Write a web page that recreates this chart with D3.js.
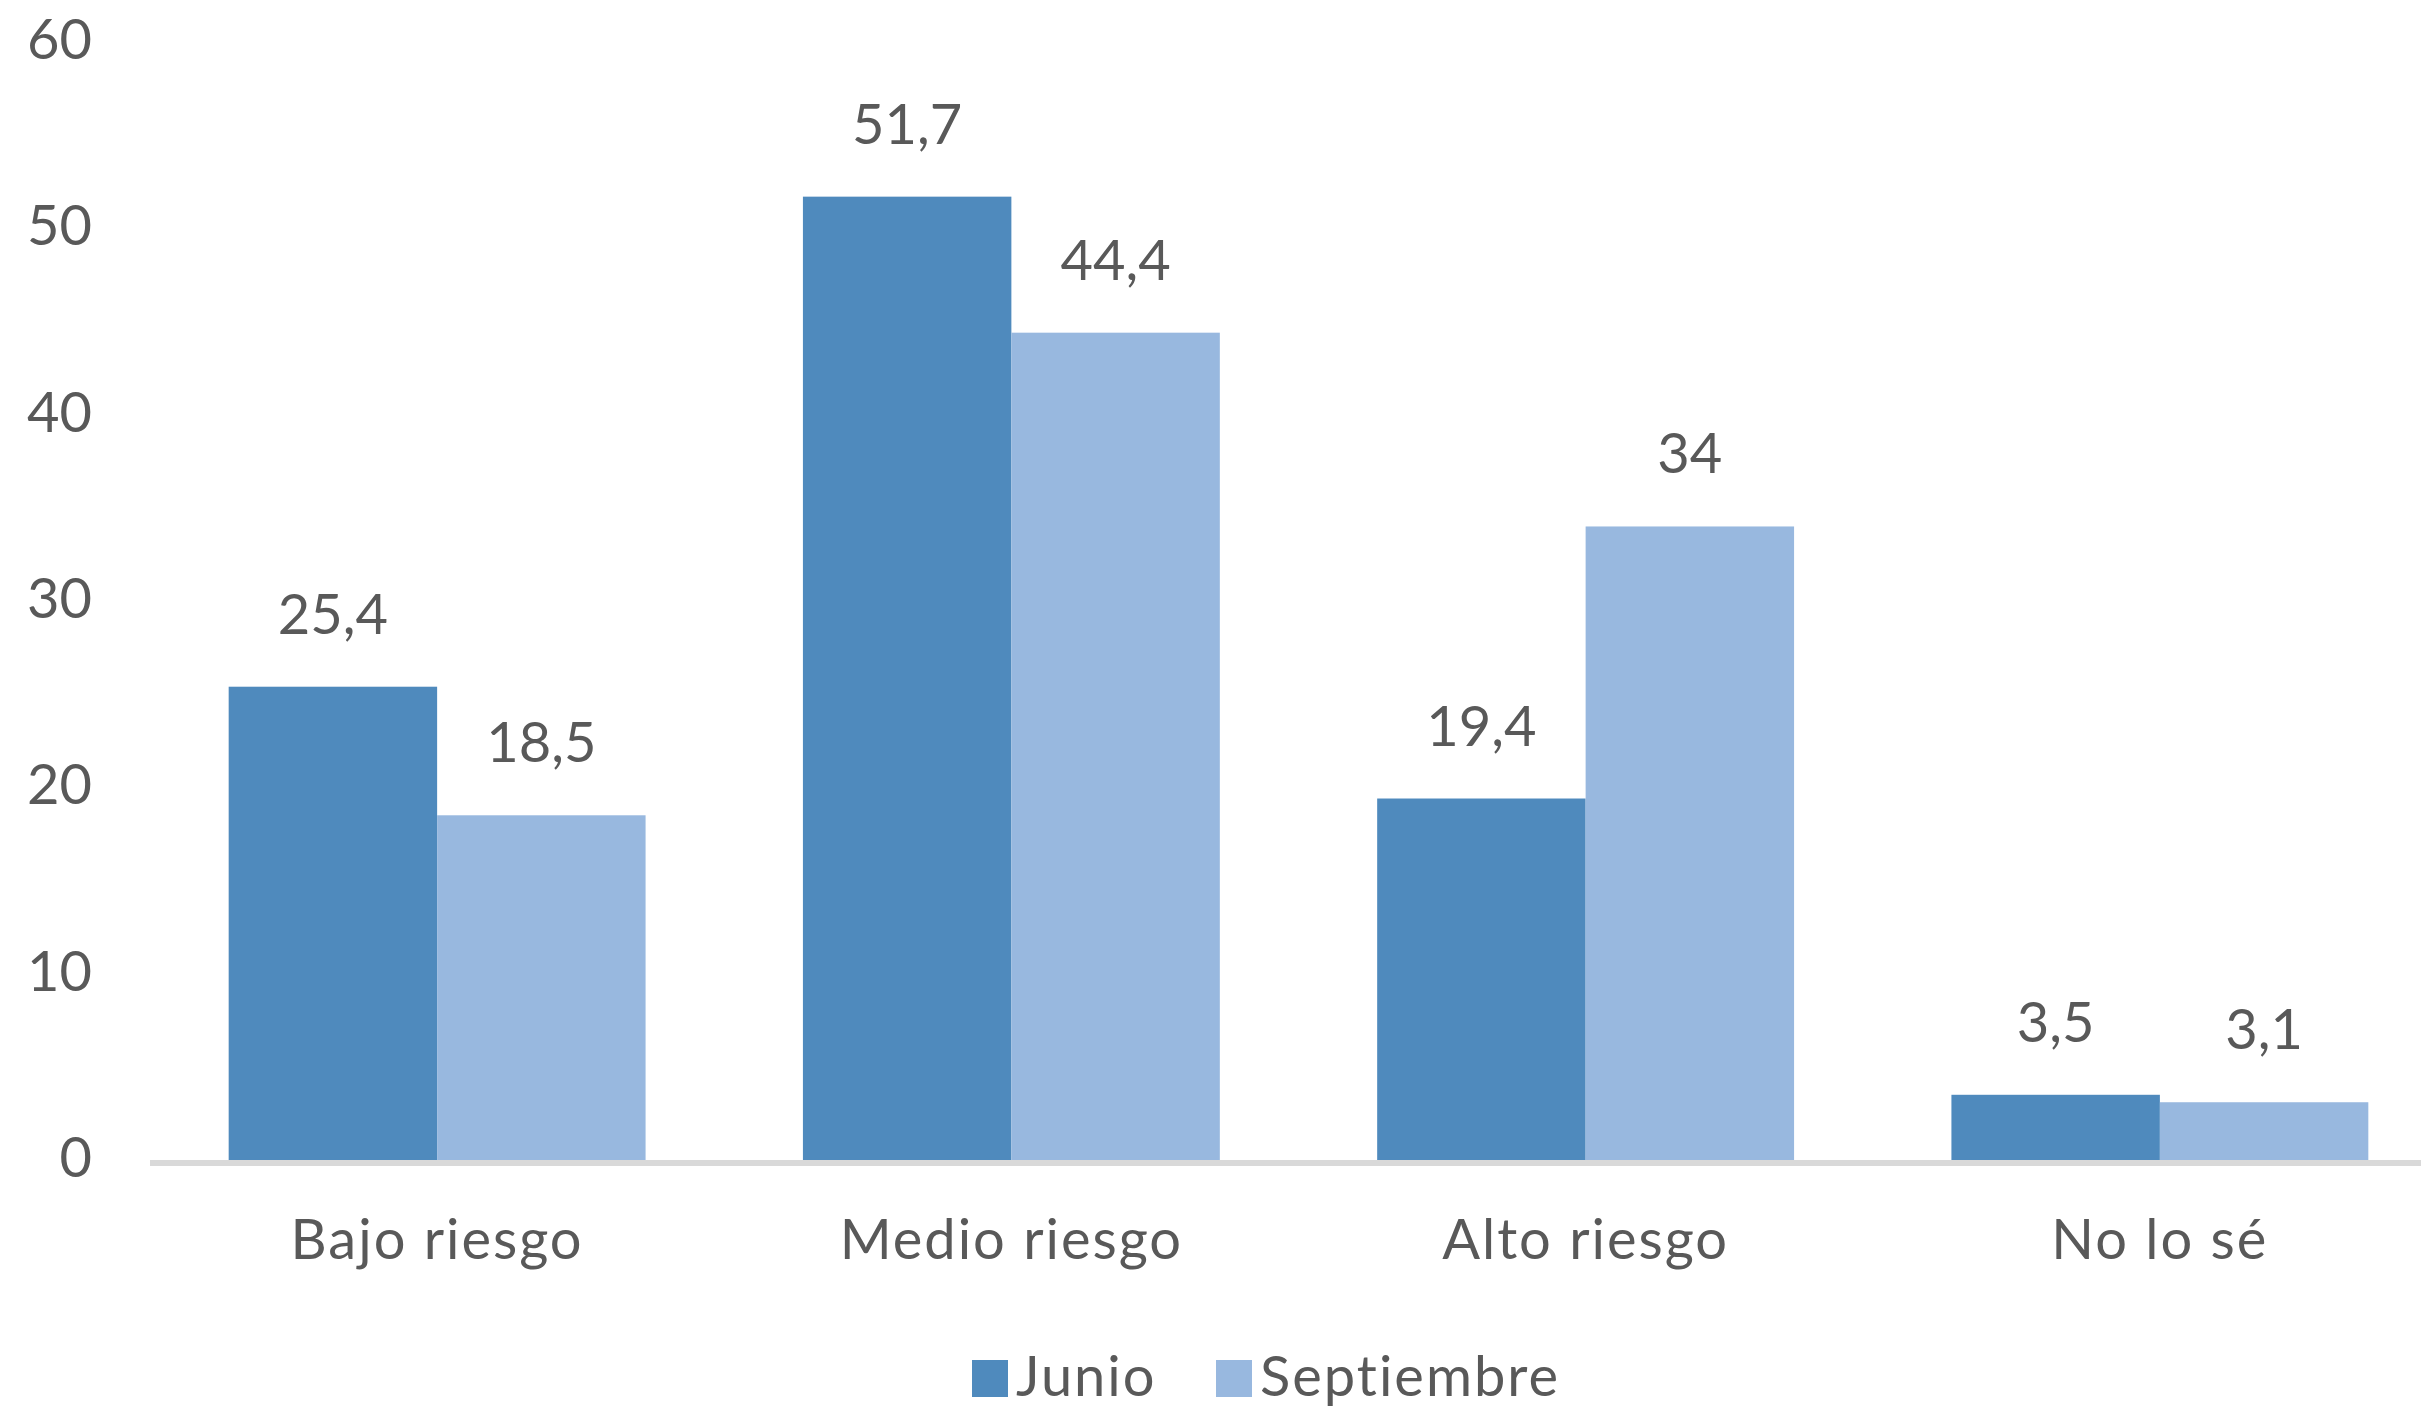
<!DOCTYPE html>
<html>
<head>
    <meta charset="utf-8" />
    <title>Percepción de riesgo</title>
    <style>
        body { margin: 0; background: #ffffff; }
        text { font-family: Lato, "Open Sans", sans-serif; fill: #595959; }
        .cat, .leg { letter-spacing: 2px; }
    </style>
    <script src="https://cdn.jsdelivr.net/npm/d3@7/dist/d3.min.js"></script>
</head>
<body>
    <svg width="2421" height="1409"></svg>

    <script>
        var categories = ['Bajo riesgo', 'Medio riesgo', 'Alto riesgo', 'No lo sé'];
        var seriesNames = ['Junio', 'Septiembre'];
        var junio = [25.4, 51.7, 19.4, 3.5];
        var septiembre = [18.5, 44.4, 34, 3.1];
        var yTicks = [0, 10, 20, 30, 40, 50, 60];
        var colors = ['#4f8abd', '#98b8df'];

        var svg = d3.select('svg'),
            width = +svg.attr('width'),
            height = +svg.attr('height');

        var rows = categories.map(function(c, i) {
            return { cat: c, values: [junio[i], septiembre[i]] };
        });

        var x = d3.scaleBand()
            .domain(categories)
            .range([150, 2447])
            .paddingInner(0.274)
            .paddingOuter(0.137);

        var xSub = d3.scaleBand()
            .domain(seriesNames)
            .range([0, x.bandwidth()]);

        var y = d3.scaleLinear()
            .domain([0, 60])
            .range([1160, 42]);

        var fmt = function(v) { return String(v).replace('.', ','); };

        // y tick labels (no axis line, no gridlines)
        svg.append('g')
            .selectAll('text')
            .data(yTicks)
            .enter().append('text')
                .attr('x', 92)
                .attr('y', function(d) { return y(d) + 17; })
                .attr('text-anchor', 'end')
                .style('font-size', '56px')
                .text(function(d) { return d; });

        // bars
        var groups = svg.append('g')
            .selectAll('g')
            .data(rows)
            .enter().append('g')
                .attr('transform', function(d) { return 'translate(' + x(d.cat) + ',0)'; });

        groups.selectAll('rect')
            .data(function(d) { return d.values; })
            .enter().append('rect')
                .attr('x', function(d, i) { return xSub(seriesNames[i]); })
                .attr('y', function(d) { return y(d); })
                .attr('width', xSub.bandwidth())
                .attr('height', function(d) { return y(0) - y(d); })
                .attr('fill', function(d, i) { return colors[i]; });

        groups.selectAll('text.val')
            .data(function(d) { return d.values; })
            .enter().append('text')
                .attr('class', 'val')
                .attr('x', function(d, i) { return xSub(seriesNames[i]) + xSub.bandwidth() / 2; })
                .attr('y', function(d) { return y(d) - 53; })
                .attr('text-anchor', 'middle')
                .style('font-size', '56px')
                .text(fmt);

        // baseline
        svg.append('line')
            .attr('x1', 150)
            .attr('x2', width)
            .attr('y1', y(0) + 3)
            .attr('y2', y(0) + 3)
            .attr('stroke', '#d9d9d9')
            .attr('stroke-width', 6);

        // category labels
        svg.append('g')
            .selectAll('text')
            .data(categories)
            .enter().append('text')
                .attr('class', 'cat')
                .attr('x', function(d) { return x(d) + x.bandwidth() / 2; })
                .attr('y', 1259)
                .attr('text-anchor', 'middle')
                .style('font-size', '56px')
                .text(function(d) { return d; });

        // legend
        var legendX = [972, 1216];
        var legend = svg.append('g')
            .selectAll('g')
            .data(seriesNames)
            .enter().append('g')
                .attr('transform', function(d, i) { return 'translate(' + legendX[i] + ',1360)'; });

        legend.append('rect')
            .attr('width', 36)
            .attr('height', 37)
            .attr('fill', function(d, i) { return colors[i]; });

        legend.append('text')
            .attr('class', 'leg')
            .attr('x', 44)
            .attr('y', 36)
            .style('font-size', '56px')
            .text(function(d) { return d; });
    </script>
</body>
</html>
